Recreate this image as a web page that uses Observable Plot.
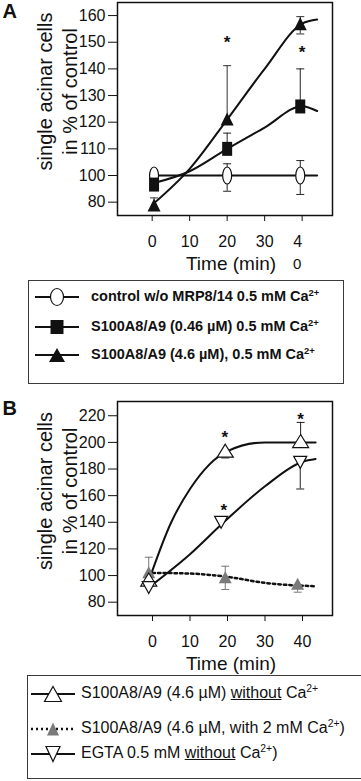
<!DOCTYPE html>
<html><head><meta charset="utf-8">
<script src="https://cdn.jsdelivr.net/npm/d3@7"></script>
<script src="https://cdn.jsdelivr.net/npm/@observablehq/plot@0.6"></script>
<style>
body{margin:0;background:#fff;font-family:"Liberation Sans",Arial,sans-serif;color:#111;}
#page{position:relative;width:361px;height:781px;overflow:hidden;background:#fff;}
.box{position:absolute;border:1.5px solid #3a3a3a;box-sizing:border-box;}
.lrow{position:absolute;white-space:nowrap;line-height:1;}
sup{font-size:0.65em;line-height:0;vertical-align:0.55em;}
</style></head><body><div id="page"></div>
<script>
// ---------- Panel A data ----------
const xTicksA = [0, 10, 20, 30, 40];
const xTickLabelsA = ["0", "10", "20", "30", "4\u2007"];
const xWrapLabelA = "0";
const yTicksA = [90, 100, 110, 120, 130, 140, 150, 160];
const yTickLabelsA = ["80", "100", "110", "120", "130", "140", "150", "160"];
const timesA = [0.5, 20, 39.5];
const controlMean = [100, 100, 100];
const controlHi = [102, 104.4, 105.6];
const controlLo = [null, 94.1, 92.9];
const lowDoseMean = [96.6, 110, 125.9];
const lowDoseHi = [null, 115.9, 140];
const lowDoseLo = [null, null, null];
const highDoseMean = [88.9, 121.2, 156.9];
const highDoseHi = [91.6, 141.2, 159.6];
const highDoseLo = [null, null, 153.1];
const fitTimesA = [0, 10, 20, 30, 40, 44];
const controlFit = [100, 100, 100, 100, 100, 100];
const lowDoseFit = [97, 101.6, 110, 118, 126, 124.2];
const highDoseFit = [89, 102.5, 121, 140, 157, 158.5];
const starTimesA = [20, 40];
const starValuesA = [151.6, 148];
const legendA = [
  "control w/o MRP8/14 0.5 mM Ca<sup>2+</sup>",
  "S100A8/A9 (0.46 µM) 0.5 mM Ca<sup>2+</sup>",
  "S100A8/A9 (4.6 µM), 0.5 mM Ca<sup>2+</sup>"
];

// ---------- Panel B data ----------
const xTicksB = [0, 10, 20, 30, 40];
const yTicksB = [80, 100, 120, 140, 160, 180, 200, 220];
const upTimes = [-1, 19.4, 39.5];
const upMean = [97, 193.75, 201];
const upHi = [null, null, 215];
const upLo = [null, 188.3, null];
const grayTimes = [-1, 19.4, 38.7];
const grayMean = [102.5, 98.75, 93.75];
const grayHi = [113.75, 107, null];
const grayLo = [null, 89.5, 87.5];
const downTimes = [-1, 18.3, 39.4];
const downMean = [91, 140, 185];
const downHi = [null, null, null];
const downLo = [null, null, 165];
const upFitT = [-1, 5, 10, 20, 30, 40, 43.5];
const upFit = [96, 140, 165, 193.5, 200, 200, 200];
const downFitT = [-1, 10, 19, 30, 40, 43.5];
const downFit = [91, 116, 140, 167, 185.5, 187.5];
const grayFitT = [0, 10, 20, 30, 43.5];
const grayFit = [102, 101.5, 99, 94.5, 92];
const starTimesB = [19.3, 19, 39.5];
const starValuesB = [207.5, 152.5, 221];
const legendB = [
  "S100A8/A9 (4.6 µM) <u>without</u> Ca<sup>2+</sup>",
  "S100A8/A9 (4.6 µM, with 2 mM Ca<sup>2+</sup>)",
  "EGTA 0.5 mM <u>without</u> Ca<sup>2+</sup>)"
];

// ---------- helpers ----------
const rows = (t, m, hi, lo) => t.map((x, i) => ({t: x, m: m[i], hi: hi[i], lo: lo[i]}));
const fit = (t, v) => t.map((x, i) => ({t: x, v: v[i]}));
const stars = (t, v) => t.map((x, i) => ({t: x, v: v[i]}));
const rectSym = (w, h) => ({draw(c) {c.moveTo(-w/2, -h/2); c.lineTo(w/2, -h/2); c.lineTo(w/2, h/2); c.lineTo(-w/2, h/2); c.closePath();}});
const triSym = (w, h, down) => ({draw(c) {
  const s = down ? -1 : 1;
  c.moveTo(0, -s*h/2); c.lineTo(w/2, s*h/2); c.lineTo(-w/2, s*h/2); c.closePath();}});
const ellSym = (w, h) => ({draw(c) {
  const rx = w/2, ry = h/2, k = 0.5523;
  c.moveTo(rx, 0);
  c.bezierCurveTo(rx, ry*k, rx*k, ry, 0, ry);
  c.bezierCurveTo(-rx*k, ry, -rx, ry*k, -rx, 0);
  c.bezierCurveTo(-rx, -ry*k, -rx*k, -ry, 0, -ry);
  c.bezierCurveTo(rx*k, -ry, rx, -ry*k, rx, 0);
  c.closePath();}});
const capSym = (w) => ({draw(c) {c.moveTo(-w/2, 0); c.lineTo(w/2, 0);}});

function errMarks(data, color) {
  const up = data.filter(d => d.hi != null);
  const dn = data.filter(d => d.lo != null);
  return [
    Plot.ruleX(up, {x: "t", y1: "m", y2: "hi", stroke: color, strokeWidth: 1}),
    Plot.ruleX(dn, {x: "t", y1: "m", y2: "lo", stroke: color, strokeWidth: 1}),
    Plot.dot(up, {x: "t", y: "hi", symbol: capSym(8), r: 4, stroke: color, strokeWidth: 1, fill: "none"}),
    Plot.dot(dn, {x: "t", y: "lo", symbol: capSym(8), r: 4, stroke: color, strokeWidth: 1, fill: "none"})
  ];
}
const font = "'Liberation Sans', Arial, Helvetica, sans-serif";
const yTitle = "single acinar cells\nin % of control";

function common(panelLetter) {
  return [
    Plot.text([yTitle], {frameAnchor: "left", text: d => d, rotate: -90, dx: -61.5, dy: -17.5,
      fontSize: 20, lineHeight: 1.25, textAnchor: "middle", lineAnchor: "middle", fill: "#111"}),
    Plot.text(["Time (min)"], {frameAnchor: "bottom", text: d => d, dx: 6, dy: 41, fontSize: 19,
      lineAnchor: "top", fill: "#111"}),
    Plot.text([panelLetter], {frameAnchor: "top-left", text: d => d, dx: -115, dy: panelLetter === "A" ? 1 : -1,
      fontSize: 20, fontWeight: "bold", lineAnchor: "top", textAnchor: "start", fill: "#111"})
  ];
}

const page = document.getElementById("page");
function place(el, left, top) {el.style.position = "absolute"; el.style.left = left + "px"; el.style.top = top + "px"; page.appendChild(el);}

// ---------- Panel A ----------
const ctrl = rows(timesA, controlMean, controlHi, controlLo);
const low = rows(timesA, lowDoseMean, lowDoseHi, lowDoseLo);
const high = rows(timesA, highDoseMean, highDoseHi, highDoseLo);

const plotA = Plot.plot({
  width: 361, height: 280, marginLeft: 117, marginRight: 29, marginTop: 2, marginBottom: 65,
  x: {domain: [-9.25, 48.1]}, y: {domain: [85, 164.9]},
  style: {fontFamily: font, fontSize: "16px", color: "#111", background: "transparent"},
  marks: [
    Plot.axisY({ticks: yTicksA, tickFormat: d => yTickLabelsA[yTicksA.indexOf(d)], tickSize: 9, tickPadding: 3, label: null, fontSize: 16}),
    Plot.axisX({ticks: xTicksA, tickFormat: d => xTickLabelsA[xTicksA.indexOf(d)], tickSize: 6, tickPadding: 14, label: null, fontSize: 16}),
    Plot.text([40], {x: d => d, frameAnchor: "bottom", text: () => xWrapLabelA, dx: -5, dy: 43, fontSize: 15, lineAnchor: "top", fill: "#111"}),
    Plot.line(fit(fitTimesA, controlFit), {x: "t", y: "v", stroke: "#111", strokeWidth: 2}),
    Plot.line(fit(fitTimesA, lowDoseFit), {x: "t", y: "v", curve: "monotone-x", stroke: "#111", strokeWidth: 2}),
    Plot.line(fit(fitTimesA, highDoseFit), {x: "t", y: "v", curve: "monotone-x", stroke: "#111", strokeWidth: 2}),
    ...errMarks(ctrl, "#222"), ...errMarks(low, "#222"), ...errMarks(high, "#333"),
    Plot.dot(ctrl, {x: "t", y: "m", symbol: ellSym(9, 17), r: 5, fill: "white", stroke: "#111", strokeWidth: 1.2}),
    Plot.dot(low, {x: "t", y: "m", symbol: rectSym(10, 14), r: 5, fill: "#111", stroke: "none"}),
    Plot.dot(high, {x: "t", y: "m", symbol: triSym(13, 13, false), r: 5, fill: "#111", stroke: "none"}),
    Plot.text(stars(starTimesA, starValuesA), {x: "t", y: "v", text: () => "*", fontSize: 17, fontWeight: "bold", dy: 5, fill: "#111"}),
    ...common("A"),
    Plot.frame({stroke: "#111", strokeWidth: 1.5})
  ]
});
place(plotA, 0, 0);

// ---------- Panel B ----------
const upR = rows(upTimes, upMean, upHi, upLo);
const grayR = rows(grayTimes, grayMean, grayHi, grayLo);
const downR = rows(downTimes, downMean, downHi, downLo);

const plotB = Plot.plot({
  width: 361, height: 290, marginLeft: 117, marginRight: 29, marginTop: 16, marginBottom: 60,
  x: {domain: [-9.33, 48]}, y: {domain: [70, 230.7]},
  style: {fontFamily: font, fontSize: "16px", color: "#111", background: "transparent"},
  marks: [
    Plot.axisY({ticks: yTicksB, tickSize: 9, tickPadding: 3, label: null, fontSize: 16}),
    Plot.axisX({ticks: xTicksB, tickSize: 6, tickPadding: 14, label: null, fontSize: 16}),
    Plot.line(fit(upFitT, upFit), {x: "t", y: "v", curve: "monotone-x", stroke: "#111", strokeWidth: 2}),
    Plot.line(fit(downFitT, downFit), {x: "t", y: "v", curve: "monotone-x", stroke: "#111", strokeWidth: 2}),
    Plot.line(fit(grayFitT, grayFit), {x: "t", y: "v", curve: "monotone-x", stroke: "#111", strokeWidth: 2.5, strokeDasharray: "2.5,3"}),
    ...errMarks(grayR, "#777"), ...errMarks(upR, "#222"), ...errMarks(downR, "#222"),
    Plot.dot(grayR, {x: "t", y: "m", symbol: triSym(13, 12, false), r: 5, fill: "#7a7a7a", stroke: "none"}),
    Plot.dot(upR, {x: "t", y: "m", symbol: triSym(16, 13, false), r: 5, fill: "white", stroke: "#111", strokeWidth: 1.2}),
    Plot.dot(downR, {x: "t", y: "m", symbol: triSym(13, 12, true), r: 5, fill: "white", stroke: "#111", strokeWidth: 1.2}),
    Plot.text(stars(starTimesB, starValuesB), {x: "t", y: "v", text: () => "*", fontSize: 17, fontWeight: "bold", dy: 5, fill: "#111"}),
    ...common("B"),
    Plot.frame({stroke: "#111", strokeWidth: 1.5})
  ]
});
place(plotB, 0, 385);

// ---------- Legends ----------
const NS = "http://www.w3.org/2000/svg";
function legendSymbol(kind) {
  const svg = document.createElementNS(NS, "svg");
  svg.setAttribute("width", 50); svg.setAttribute("height", 24);
  const line = document.createElementNS(NS, "line");
  line.setAttribute("x1", 0); line.setAttribute("x2", 44); line.setAttribute("y1", 12); line.setAttribute("y2", 12);
  line.setAttribute("stroke", "#111"); line.setAttribute("stroke-width", kind === "gray" ? 2.5 : 2);
  if (kind === "gray") line.setAttribute("stroke-dasharray", "2,3");
  svg.appendChild(line);
  const p = document.createElementNS(NS, "path");
  const sym = {circle: ellSym(13, 17), square: rectSym(13, 14), tri: triSym(16, 14, false),
    openUp: triSym(17, 15, false), gray: triSym(12, 13, false), openDown: triSym(14, 15, true)}[kind];
  const path = d3.path(); sym.draw(path);
  p.setAttribute("d", path.toString());
  p.setAttribute("transform", "translate(22,12)");
  const open = kind === "circle" || kind === "openUp" || kind === "openDown";
  p.setAttribute("fill", open ? "white" : kind === "gray" ? "#7a7a7a" : "#111");
  if (open) {p.setAttribute("stroke", "#111"); p.setAttribute("stroke-width", 1.2);}
  svg.appendChild(p);
  return svg;
}
function legend(box, items, kinds, rowYs, lineX, textX, fontSize, weight) {
  const b = document.createElement("div"); b.className = "box";
  b.style.width = box.w + "px"; b.style.height = box.h + "px";
  place(b, box.x, box.y);
  items.forEach((html, i) => {
    const s = legendSymbol(kinds[i]);
    place(s, lineX, rowYs[i] - 12);
    const t = document.createElement("div"); t.className = "lrow";
    t.style.fontSize = fontSize + "px"; t.style.fontWeight = weight;
    t.innerHTML = html;
    place(t, textX, rowYs[i] - fontSize * 0.55);
  });
}
legend({x: 28, y: 280, w: 316, h: 104}, legendA, ["circle", "square", "tri"], [297, 326.5, 355], 35, 91, 14.5, "bold");
legend({x: 27, y: 675, w: 345, h: 104}, legendB, ["openUp", "gray", "openDown"], [694, 729, 754], 31, 81, 16, "normal");
</script></body></html>
